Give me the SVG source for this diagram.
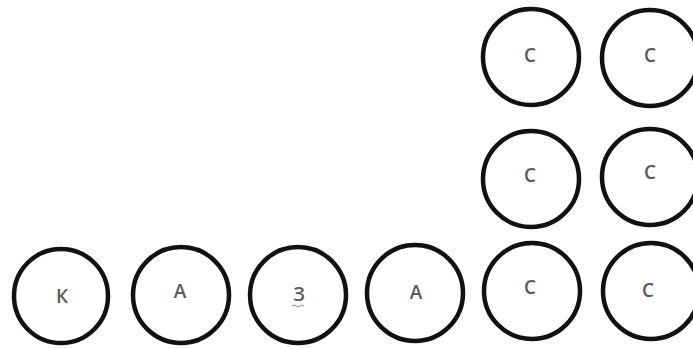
<svg xmlns="http://www.w3.org/2000/svg" width="693" height="349" viewBox="0 0 693 349">
<style>
.n circle{fill:#fff;stroke:#111;stroke-width:4.5}
.n text{font-family:"Open Sans","Liberation Sans",sans-serif;font-size:19px;fill:#5a5a5a;text-anchor:middle;dominant-baseline:central;font-weight:600}
</style>
<rect width="693" height="349" fill="#fff"/>
<g id="n1" class="n"><circle cx="61" cy="296" r="47"/><text x="62" y="296">К</text></g>
<g id="n2" class="n"><circle cx="181" cy="295" r="48"/><text x="180" y="291">А</text></g>
<g id="n3" class="n"><circle cx="298" cy="295" r="48"/><text x="299" y="294">З</text><path d="M292 306 q2 -2 4 0 t4 0 t4 0" fill="none" stroke="#8a8a8a" stroke-width="1"/></g>
<g id="n4" class="n"><circle cx="415" cy="293" r="48"/><text x="416" y="292">А</text></g>
<g id="n5" class="n"><circle cx="532" cy="291" r="48"/><text x="530" y="287">С</text></g>
<g id="n6" class="n"><circle cx="651" cy="291" r="48"/><text x="648" y="290">С</text></g>
<g id="n7" class="n"><circle cx="531" cy="179" r="48"/><text x="530" y="175">С</text></g>
<g id="n8" class="n"><circle cx="650" cy="177" r="48"/><text x="650" y="172">С</text></g>
<g id="n9" class="n"><circle cx="531" cy="57" r="48"/><text x="530" y="55">С</text></g>
<g id="n10" class="n"><circle cx="650" cy="58" r="48"/><text x="650" y="55">С</text></g>
<g id="connectors"></g>
</svg>
